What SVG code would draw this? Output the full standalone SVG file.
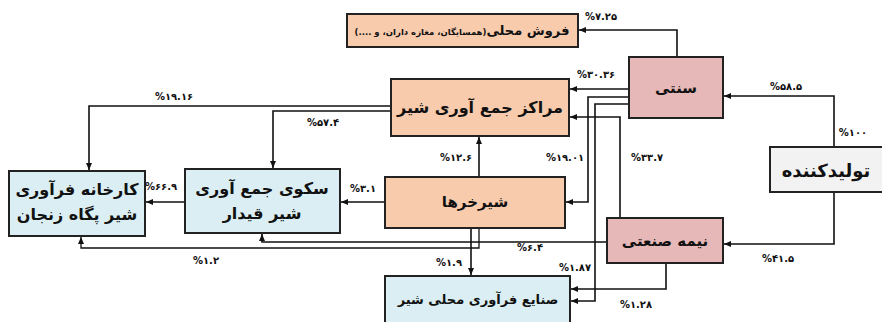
<svg xmlns="http://www.w3.org/2000/svg" width="882" height="322" viewBox="0 0 882 322">
<style>
.box{stroke:#222;stroke-width:2}
.or{fill:#F8CBAD}.pk{fill:#E6B8B7}.bl{fill:#DAEEF3}.gr{fill:#F2F2F2}
.ln{fill:none;stroke:#111;stroke-width:1.6}
.t{font-family:"DejaVu Sans",sans-serif;font-weight:bold;fill:#111;text-anchor:middle;direction:rtl}
.p{font-family:"DejaVu Sans",sans-serif;font-weight:bold;font-size:10px;fill:#111;text-anchor:middle}
</style>
<defs>
<marker id="ah" markerWidth="8" markerHeight="8" refX="7" refY="4" orient="auto" markerUnits="userSpaceOnUse">
<path d="M0,1 L7,4 L0,7 Z" fill="#111"/>
</marker>
</defs>
<rect width="882" height="322" fill="#fff"/>
<g id="connectors" marker-end="url(#ah)">
<path class="ln" d="M677,57 V30 H579"/>
<path class="ln" d="M629,89 H570"/>
<path class="ln" d="M629,97 H588 V202 H566"/>
<path class="ln" d="M629,104 H595 V301 H571"/>
<path class="ln" d="M620,218 V117 H570"/>
<path class="ln" d="M666,263 V289 H571"/>
<path class="ln" d="M607,242 H262 V234"/>
<path class="ln" d="M479,228 V248 H81 V237" style="stroke-width:1.3"/>
<path class="ln" d="M471,228 V275"/>
<path class="ln" d="M479,177 V137"/>
<path class="ln" d="M385,202 H341"/>
<path class="ln" d="M185,202 H146"/>
<path class="ln" d="M391,106 H89 V170"/>
<path class="ln" d="M391,111 H273 V168"/>
<path class="ln" d="M834,147 V96 H724"/>
<path class="ln" d="M834,192 V244 H724"/>
</g>
<g id="local-sale"><rect class="box or" x="347" y="14" width="231" height="33"/>
<text class="t" x="462" y="35"><tspan font-size="13">فروش محلی</tspan><tspan font-size="8.5">(همسایگان، مغازه داران، و ....)</tspan></text></g>
<g id="traditional"><rect class="box pk" x="629" y="57" width="94" height="61"/>
<text class="t" x="676" y="93" font-size="15">سنتی</text></g>
<g id="collection-centers"><rect class="box or" x="391" y="79" width="178" height="57"/>
<text class="t" x="480" y="113" font-size="16">مراکز جمع آوری شیر</text></g>
<g id="producer"><rect class="box gr" x="770" y="147" width="114" height="45"/>
<text class="t" x="826" y="177" font-size="18" font-weight="normal">تولیدکننده</text></g>
<g id="milk-buyers"><rect class="box or" x="385" y="177" width="180" height="51"/>
<text class="t" x="475" y="207" font-size="15">شیرخرها</text></g>
<g id="semi-industrial"><rect class="box pk" x="607" y="218" width="116" height="45"/>
<text class="t" x="665" y="246" font-size="15">نیمه صنعتی</text></g>
<g id="local-processing"><rect class="box bl" x="385" y="276" width="185" height="50"/>
<text class="t" x="478" y="304" font-size="13">صنایع فرآوری محلی شیر</text></g>
<g id="qeydar-platform"><rect class="box bl" x="185" y="169" width="155" height="64"/>
<text class="t" x="262" y="194" font-size="16">سکوی جمع آوری</text>
<text class="t" x="262" y="219" font-size="16">شیر قیدار</text></g>
<g id="pegah-factory"><rect class="box bl" x="9" y="171" width="136" height="65"/>
<text class="t" x="77" y="195" font-size="16">کارخانه فرآوری</text>
<text class="t" x="77" y="220" font-size="16">شیر پگاه زنجان</text></g>
<g id="labels">
<text class="p" x="601" y="20">%۷.۲۵</text>
<text class="p" x="596" y="78">%۳۰.۳۶</text>
<text class="p" x="786" y="90">%۵۸.۵</text>
<text class="p" x="853" y="136">%۱۰۰</text>
<text class="p" x="174" y="100">%۱۹.۱۶</text>
<text class="p" x="323" y="126">%۵۷.۴</text>
<text class="p" x="456" y="161">%۱۲.۶</text>
<text class="p" x="565" y="161">%۱۹.۰۱</text>
<text class="p" x="647" y="161">%۳۳.۷</text>
<text class="p" x="161" y="190">%۶۶.۹</text>
<text class="p" x="363" y="192">%۳.۱</text>
<text class="p" x="530" y="251">%۶.۴</text>
<text class="p" x="206" y="264">%۱.۲</text>
<text class="p" x="449" y="266">%۱.۹</text>
<text class="p" x="575" y="271">%۱.۸۷</text>
<text class="p" x="636" y="308">%۱.۲۸</text>
<text class="p" x="778" y="262">%۴۱.۵</text>
</g>
</svg>
